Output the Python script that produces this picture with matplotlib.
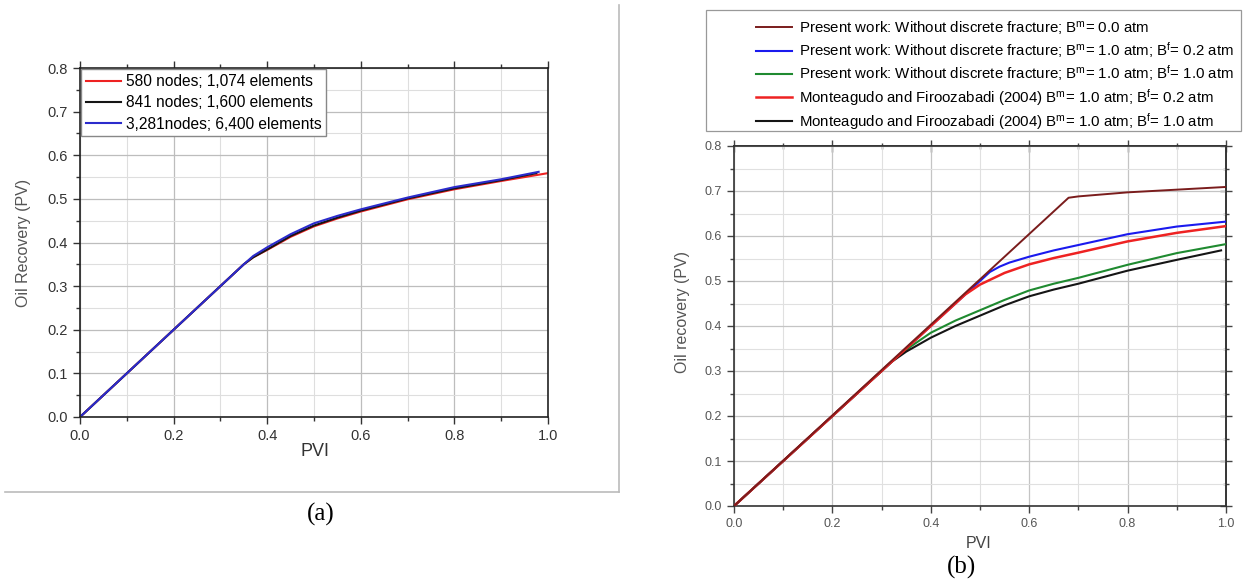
import matplotlib
matplotlib.use("Agg")
import matplotlib.pyplot as plt
from matplotlib.lines import Line2D
from matplotlib.patches import Rectangle
from matplotlib.ticker import MultipleLocator, FormatStrFormatter

plt.rcParams['font.family'] = ['Liberation Sans', 'DejaVu Sans']
plt.rcParams['mathtext.default'] = 'regular'

# ── panel (a): mesh sensitivity ──
a_labels = ["580 nodes; 1,074 elements", "841 nodes; 1,600 elements",
            "3,281nodes; 6,400 elements"]
a_red_x = [0, 0.35, 0.37, 0.4, 0.45, 0.5, 0.55, 0.6, 0.7, 0.8, 0.9, 1.0]
a_red_y = [0, 0.35, 0.366, 0.383, 0.413, 0.437, 0.455, 0.471, 0.499, 0.522, 0.541, 0.559]
a_blk_x = [0, 0.35, 0.37, 0.4, 0.45, 0.5, 0.55, 0.6, 0.7, 0.8, 0.9, 0.975]
a_blk_y = [0, 0.35, 0.366, 0.384, 0.415, 0.439, 0.457, 0.473, 0.501, 0.524, 0.543, 0.559]
a_blu_x = [0, 0.35, 0.37, 0.4, 0.45, 0.5, 0.55, 0.6, 0.7, 0.8, 0.9, 0.98]
a_blu_y = [0, 0.35, 0.369, 0.389, 0.419, 0.444, 0.461, 0.476, 0.503, 0.527, 0.545, 0.562]

# ── panel (b): fracture comparison ──
b_labels = [
    r"Present work: Without discrete fracture; B$^{m}$= 0.0 atm",
    r"Present work: Without discrete fracture; B$^{m}$= 1.0 atm; B$^{f}$= 0.2 atm",
    r"Present work: Without discrete fracture; B$^{m}$= 1.0 atm; B$^{f}$= 1.0 atm",
    r"Monteagudo and Firoozabadi (2004) B$^{m}$= 1.0 atm; B$^{f}$= 0.2 atm",
    r"Monteagudo and Firoozabadi (2004) B$^{m}$= 1.0 atm; B$^{f}$= 1.0 atm",
]
brown_x = [0, 0.68, 0.7, 0.8, 0.9, 1.0]
brown_y = [0, 0.685, 0.688, 0.697, 0.703, 0.709]
blue_x = [0, 0.52, 0.54, 0.56, 0.6, 0.65, 0.7, 0.8, 0.9, 1.0]
blue_y = [0, 0.52, 0.532, 0.541, 0.554, 0.568, 0.58, 0.604, 0.621, 0.632]
green_x = [0, 0.33, 0.36, 0.4, 0.45, 0.5, 0.55, 0.6, 0.65, 0.7, 0.8, 0.9, 1.0]
green_y = [0, 0.33, 0.355, 0.385, 0.412, 0.435, 0.458, 0.479, 0.494, 0.507, 0.536, 0.562, 0.582]
red_x = [0, 0.47, 0.5, 0.55, 0.6, 0.65, 0.7, 0.8, 0.9, 1.0]
red_y = [0, 0.47, 0.492, 0.518, 0.537, 0.551, 0.563, 0.588, 0.607, 0.622]
black_x = [0, 0.32, 0.35, 0.4, 0.45, 0.5, 0.55, 0.6, 0.65, 0.7, 0.8, 0.9, 0.99]
black_y = [0, 0.32, 0.343, 0.374, 0.4, 0.423, 0.446, 0.466, 0.481, 0.494, 0.523, 0.547, 0.568]

W, H = 1243, 581
fig = plt.figure(figsize=(W / 100, H / 100), dpi=100)


def rect(l, t, r, b):
    return [l / W, 1 - b / H, (r - l) / W, (b - t) / H]


def style_axes(ax, major_col, minor_col):
    ax.set_xlim(0, 1)
    ax.set_ylim(0, 0.8)
    ax.xaxis.set_major_locator(MultipleLocator(0.2))
    ax.xaxis.set_minor_locator(MultipleLocator(0.1))
    ax.yaxis.set_major_locator(MultipleLocator(0.1))
    ax.yaxis.set_minor_locator(MultipleLocator(0.05))
    ax.grid(True, which='major', color=major_col, lw=0.9)
    ax.grid(True, which='minor', color=minor_col, lw=0.8)
    ax.set_axisbelow(True)
    ax.xaxis.set_major_formatter(FormatStrFormatter('%.1f'))
    ax.yaxis.set_major_formatter(FormatStrFormatter('%.1f'))


# ── (a) ──
ax1 = fig.add_axes(rect(80, 68, 548, 417))
style_axes(ax1, '#bdbdbd', '#dedede')
for s in ax1.spines.values():
    s.set_linewidth(1.2)
    s.set_color('#222222')
ax1.tick_params(which='both', direction='out', top=True, right=False,
                labelsize=10.5, labelcolor='#333333', color='#333333')
ax1.tick_params(which='major', length=5, width=1)
ax1.tick_params(which='minor', length=3, width=1)
ax1.plot(a_red_x, a_red_y, color='#ee2222', lw=1.5, label=a_labels[0])
ax1.plot(a_blk_x, a_blk_y, color='#151515', lw=1.5, label=a_labels[1])
ax1.plot(a_blu_x, a_blu_y, color='#2b2bcc', lw=1.5, label=a_labels[2])
leg1 = ax1.legend(loc='upper left', bbox_to_anchor=(0.002, 0.996), fontsize=11.2,
                  frameon=True, fancybox=False, edgecolor='#888888',
                  framealpha=1, borderpad=0.3, borderaxespad=0,
                  handlelength=2.3, handletextpad=0.3, labelspacing=0.4)
leg1.get_frame().set_linewidth(1.0)
ax1.set_xlabel("PVI", fontsize=13, color='#333333')
ax1.xaxis.set_label_coords((315 - 80) / 468, -0.075)
ax1.set_ylabel("Oil Recovery (PV)", fontsize=11.5, color='#555555')
ax1.yaxis.set_label_coords((31 - 80) / 468, 0.5)

# frame around panel (a)
fig.add_artist(Line2D([5 / W, 619 / W], [1 - 492 / H, 1 - 492 / H],
                      color='#bbbbbb', lw=1.2, transform=fig.transFigure))
fig.add_artist(Line2D([619 / W, 619 / W], [1 - 5 / H, 1 - 492 / H],
                      color='#bbbbbb', lw=1.2, transform=fig.transFigure))
fig.text(321 / W, 1 - 514 / H, "(a)", ha='center', va='center', fontsize=18,
         family=['Liberation Serif', 'DejaVu Serif'])

# ── (b) ──
ax2 = fig.add_axes(rect(734, 146, 1226, 506))
style_axes(ax2, '#c4c4c4', '#e0e0e0')
for s in ax2.spines.values():
    s.set_linewidth(1.2)
    s.set_color('#333333')
ax2.tick_params(which='both', direction='out', labelsize=9,
                labelcolor='#555555', color='#444444')
ax2.tick_params(which='major', length=5, width=1)
ax2.tick_params(which='minor', length=3, width=1)
sec_x = ax2.secondary_xaxis('top')
sec_y = ax2.secondary_yaxis('right')
for sec, maj, mnr in ((sec_x, 0.2, 0.1), (sec_y, 0.1, 0.05)):
    axis = sec.xaxis if sec is sec_x else sec.yaxis
    axis.set_major_locator(MultipleLocator(maj))
    axis.set_minor_locator(MultipleLocator(mnr))
    sec.tick_params(which='both', direction='inout', labelleft=False,
                    labelright=False, labeltop=False, color='#444444')
    sec.tick_params(which='major', length=8, width=1)
    sec.tick_params(which='minor', length=5, width=1)
    for s in sec.spines.values():
        s.set_linewidth(1.2)
        s.set_color('#333333')

l_brown, = ax2.plot(brown_x, brown_y, color='#7a1c1c', lw=1.4, zorder=6)
l_blue, = ax2.plot(blue_x, blue_y, color='#1a1aee', lw=1.5, zorder=3)
l_green, = ax2.plot(green_x, green_y, color='#1f8a30', lw=1.5, zorder=3)
l_red, = ax2.plot(red_x, red_y, color='#ee2222', lw=1.8, zorder=4)
l_black, = ax2.plot(black_x, black_y, color='#151515', lw=1.5, zorder=3)

ax2.set_xlabel("PVI", fontsize=11.5, color='#444444')
ax2.xaxis.set_label_coords(0.498, -0.082)
ax2.set_ylabel("Oil recovery (PV)", fontsize=11.5, color='#555555')
ax2.yaxis.set_label_coords((690 - 734) / 492, (506 - 312) / 360)

fig.add_artist(Rectangle((706 / W, 1 - 131 / H), 535 / W, 121 / H,
                         transform=fig.transFigure, fill=False,
                         edgecolor='#999999', lw=0.9))
fig.legend([l_brown, l_blue, l_green, l_red, l_black], b_labels,
           loc='upper left', bbox_to_anchor=(756 / W, 1 - 19 / H),
           frameon=False, fontsize=10.85, borderpad=0, borderaxespad=0,
           handlelength=2.4, handletextpad=0.45, labelspacing=0.22)
fig.text(962 / W, 1 - 567 / H, "(b)", ha='center', va='center', fontsize=18,
         family=['Liberation Serif', 'DejaVu Serif'])

fig.savefig("out.png", dpi=100)
